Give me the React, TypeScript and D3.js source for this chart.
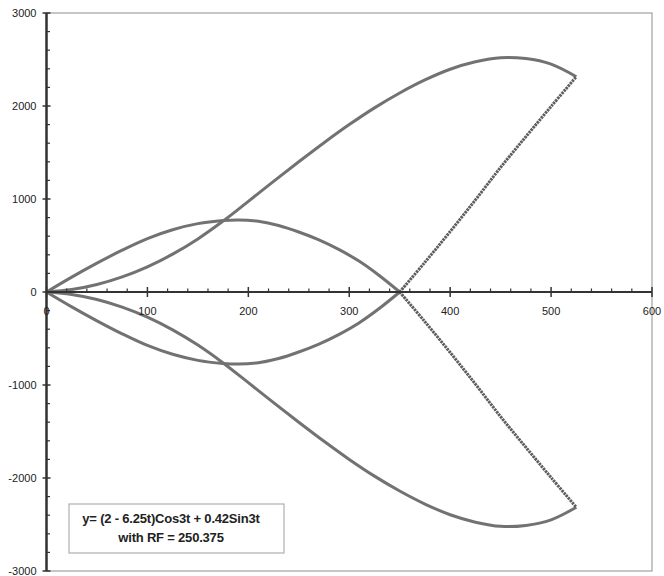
import React, { useEffect, useRef } from "react";
import * as d3 from "d3";

// axis ticks
const xTicks = [0, 100, 200, 300, 400, 500, 600];
const yTicks = [-3000, -2000, -1000, 0, 1000, 2000, 3000];

// upper outer branch: origin -> peak -> end point
const upperOuterX = [0, 25, 50, 75, 100, 125, 150, 175, 200, 225, 250, 275, 300, 325, 350, 375, 400, 425, 450, 475, 500, 525];
const upperOuterY = [0, 26, 80, 162, 270, 407, 571, 763, 975, 1190, 1400, 1605, 1800, 1980, 2140, 2280, 2395, 2475, 2520, 2510, 2450, 2315];

// upper lens arc: origin -> 350
const upperLensX = [0, 25, 50, 75, 100, 125, 150, 175, 190, 210, 230, 250, 270, 290, 310, 330, 350];
const upperLensY = [0, 160, 310, 450, 575, 670, 735, 768, 775, 760, 715, 645, 560, 455, 330, 175, 0];

// steep return leg from crossing to upper end point
const upperLegX = [350, 375, 400, 425, 450, 475, 500, 525];
const upperLegY = [0, 320, 650, 990, 1340, 1670, 1995, 2315];

// lower half
const lowerOuterX = [0, 25, 50, 75, 100, 125, 150, 175, 200, 225, 250, 275, 300, 325, 350, 375, 400, 425, 450, 475, 500, 525];
const lowerOuterY = [0, -26, -80, -162, -270, -407, -571, -763, -975, -1190, -1400, -1605, -1800, -1980, -2140, -2280, -2395, -2475, -2520, -2510, -2450, -2315];

const lowerLensX = [0, 25, 50, 75, 100, 125, 150, 175, 190, 210, 230, 250, 270, 290, 310, 330, 350];
const lowerLensY = [0, -160, -310, -450, -575, -670, -735, -768, -775, -760, -715, -645, -560, -455, -330, -175, 0];

const lowerLegX = [350, 375, 400, 425, 450, 475, 500, 525];
const lowerLegY = [0, -320, -650, -990, -1340, -1670, -1995, -2315];

const legendLines = ["y= (2 - 6.25t)Cos3t + 0.42Sin3t", "with RF = 250.375"];

const zip = (xs: number[], ys: number[]) => xs.map((x, i) => [x, ys[i]] as [number, number]);

export default function App() {
  const ref = useRef<SVGSVGElement>(null);

  useEffect(() => {
    const svg = d3.select(ref.current);
    svg.selectAll("*").remove();

    const width = 664;
    const height = 576;
    const margin = { top: 13, right: 12, bottom: 5, left: 46.5 };

    const x = d3.scaleLinear().domain([0, 600]).range([margin.left, width - margin.right]);
    const y = d3.scaleLinear().domain([-3000, 3000]).range([height - margin.bottom, margin.top]);

    const font = "'Liberation Sans', Arial, sans-serif";

    // plot frame
    svg
      .append("rect")
      .attr("x", x(0))
      .attr("y", y(3000))
      .attr("width", x(600) - x(0))
      .attr("height", y(-3000) - y(3000))
      .attr("fill", "white")
      .attr("stroke", "#a0a0a0")
      .attr("stroke-width", 1.2);

    // curves
    const line = d3
      .line<[number, number]>()
      .x((d) => x(d[0]))
      .y((d) => y(d[1]))
      .curve(d3.curveCatmullRom.alpha(0.5));

    const solid = [
      zip(upperOuterX, upperOuterY),
      zip(upperLensX, upperLensY),
      zip(lowerOuterX, lowerOuterY),
      zip(lowerLensX, lowerLensY),
    ];
    const dotted = [zip(upperLegX, upperLegY), zip(lowerLegX, lowerLegY)];

    const g = svg.append("g");
    g.selectAll("path.solid")
      .data(solid)
      .enter()
      .append("path")
      .attr("class", "solid")
      .attr("d", (d) => line(d))
      .attr("fill", "none")
      .attr("stroke", "#727272")
      .attr("stroke-width", 3);

    g.selectAll("path.dotted")
      .data(dotted)
      .enter()
      .append("path")
      .attr("class", "dotted")
      .attr("d", (d) => line(d))
      .attr("fill", "none")
      .attr("stroke", "#5e5e5e")
      .attr("stroke-width", 3)
      .attr("stroke-dasharray", "2.4 0.8");

    // x axis along y = 0
    const axisColor = "#333";
    svg
      .append("line")
      .attr("x1", x(0))
      .attr("x2", x(600))
      .attr("y1", y(0))
      .attr("y2", y(0))
      .attr("stroke", axisColor)
      .attr("stroke-width", 2);

    const xMinor = d3.range(0, 601, 20).filter((v) => v % 100 !== 0);
    svg
      .append("g")
      .selectAll("line")
      .data(xMinor)
      .enter()
      .append("line")
      .attr("x1", (d) => x(d))
      .attr("x2", (d) => x(d))
      .attr("y1", y(0) - 3.5)
      .attr("y2", y(0))
      .attr("stroke", axisColor)
      .attr("stroke-width", 1.2);

    svg
      .append("g")
      .selectAll("line")
      .data(xTicks)
      .enter()
      .append("line")
      .attr("x1", (d) => x(d))
      .attr("x2", (d) => x(d))
      .attr("y1", y(0) - 5)
      .attr("y2", y(0) + 5)
      .attr("stroke", axisColor)
      .attr("stroke-width", 1.5);

    // y axis along x = 0
    svg
      .append("line")
      .attr("x1", x(0))
      .attr("x2", x(0))
      .attr("y1", y(3000))
      .attr("y2", y(-3000))
      .attr("stroke", axisColor)
      .attr("stroke-width", 2.5);

    const yMinor = d3.range(-3000, 3001, 200).filter((v) => v % 1000 !== 0);
    svg
      .append("g")
      .selectAll("line")
      .data(yMinor)
      .enter()
      .append("line")
      .attr("x1", x(0))
      .attr("x2", x(0) + 3.5)
      .attr("y1", (d) => y(d))
      .attr("y2", (d) => y(d))
      .attr("stroke", axisColor)
      .attr("stroke-width", 1.2);

    svg
      .append("g")
      .selectAll("line")
      .data(yTicks)
      .enter()
      .append("line")
      .attr("x1", x(0) - 4)
      .attr("x2", x(0) + 4)
      .attr("y1", (d) => y(d))
      .attr("y2", (d) => y(d))
      .attr("stroke", axisColor)
      .attr("stroke-width", 1.5);

    // tick labels
    svg
      .append("g")
      .selectAll("text")
      .data(xTicks)
      .enter()
      .append("text")
      .attr("x", (d) => x(d))
      .attr("y", y(0) + 19)
      .attr("dy", ".35em")
      .attr("text-anchor", "middle")
      .attr("font-family", font)
      .attr("font-size", 11)
      .attr("fill", "#222")
      .text((d) => d);

    svg
      .append("g")
      .selectAll("text")
      .data(yTicks)
      .enter()
      .append("text")
      .attr("x", x(0) - 10)
      .attr("y", (d) => y(d))
      .attr("dy", ".35em")
      .attr("text-anchor", "end")
      .attr("font-family", font)
      .attr("font-size", 11)
      .attr("fill", "#222")
      .text((d) => d);

    // legend box
    const box = { x: 69, y: 504, w: 215, h: 49 };
    svg
      .append("rect")
      .attr("x", box.x)
      .attr("y", box.y)
      .attr("width", box.w)
      .attr("height", box.h)
      .attr("fill", "white")
      .attr("stroke", "#b0b0b0")
      .attr("stroke-width", 1.2);

    svg
      .append("g")
      .selectAll("text")
      .data(legendLines)
      .enter()
      .append("text")
      .attr("x", 171)
      .attr("y", (d, i) => 518 + i * 19)
      .attr("dy", ".35em")
      .attr("text-anchor", "middle")
      .attr("font-family", font)
      .attr("font-size", 13)
      .attr("font-weight", "bold")
      .attr("letter-spacing", "-0.2")
      .attr("fill", "#222")
      .text((d) => d);
  }, []);

  return (
    <svg
      ref={ref}
      width={664}
      height={576}
      style={{ position: "absolute", left: 0, top: 0, background: "white" }}
    />
  );
}
